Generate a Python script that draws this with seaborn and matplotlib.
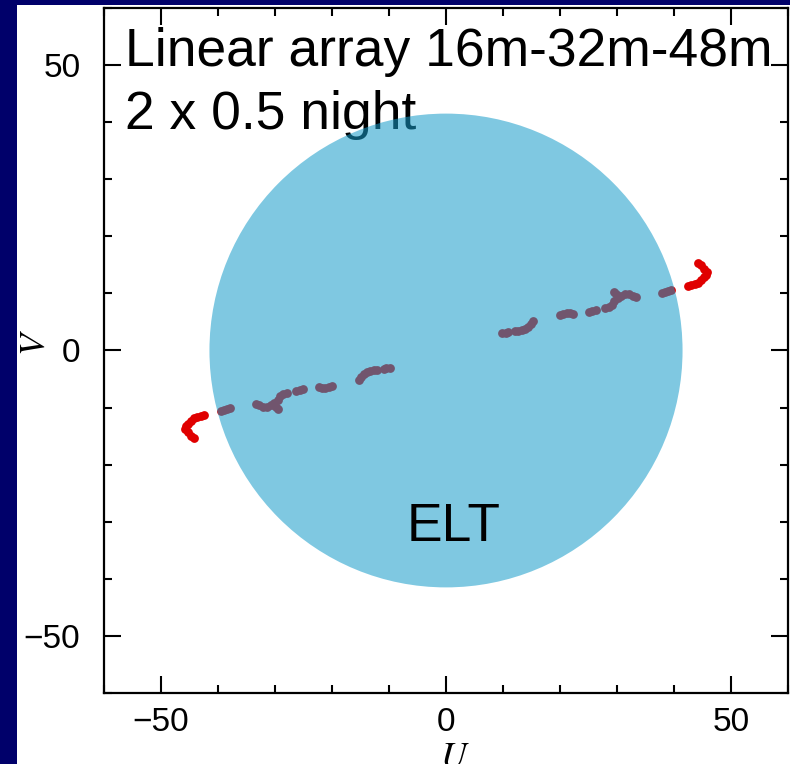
import matplotlib
matplotlib.use("Agg")
import matplotlib.pyplot as plt
from matplotlib.patches import Circle, Rectangle
from matplotlib.ticker import MultipleLocator
import seaborn as sns
import pandas as pd

# ---- data (uv-coverage tracks, metres) ----
u_pts = [
    -44.26, -44.82, -45.35, -45.79, -45.61, -45.26, -44.74, -44.21, -43.68, -43.07, -42.46,
    -39.47, -38.95, -38.42, -37.89,
    -33.33, -32.72, -32.02, -31.32, -30.70, -30.09, -29.56, -29.04, -28.51, -27.98,
    -30.09, -29.82, -29.47,
    -26.32, -25.70, -25.09,
    -22.23, -21.75, -21.23, -20.61, -20.00,
    -15.18, -14.91, -14.47, -13.86, -13.25, -12.63, -12.11,
    -10.96, -10.44, -9.91,
    44.26, 44.82, 45.35, 45.79, 45.61, 45.26, 44.74, 44.21, 43.68, 43.07, 42.46,
    39.47, 38.95, 38.42, 37.89,
    33.33, 32.72, 32.02, 31.32, 30.70, 30.09, 29.56, 29.04, 28.51, 27.98,
    30.09, 29.82, 29.47,
    26.32, 25.70, 25.09,
    22.23, 21.75, 21.23, 20.61, 20.00,
    15.18, 14.91, 14.47, 13.86, 13.25, 12.63, 12.11,
    10.96, 10.44, 9.91,
]
v_pts = [
    -15.32, -14.91, -14.30, -13.68, -13.16, -12.81, -12.28, -11.84, -11.67, -11.46, -11.23,
    -10.53, -10.35, -10.18, -10.00,
    -9.35, -9.60, -9.82, -9.82, -9.56, -9.12, -8.60, -7.98, -7.54, -7.37,
    -9.56, -9.91, -10.26,
    -7.02, -6.84, -6.72,
    -6.32, -6.54, -6.54, -6.44, -6.14,
    -5.09, -4.56, -4.04, -3.68, -3.51, -3.39, -3.33,
    -3.16, -3.07, -3.04,
    15.32, 14.91, 14.30, 13.68, 13.16, 12.81, 12.28, 11.84, 11.67, 11.46, 11.23,
    10.53, 10.35, 10.18, 10.00,
    9.35, 9.60, 9.82, 9.82, 9.56, 9.12, 8.60, 7.98, 7.54, 7.37,
    9.56, 9.91, 10.26,
    7.02, 6.84, 6.72,
    6.32, 6.54, 6.54, 6.44, 6.14,
    5.09, 4.56, 4.04, 3.68, 3.51, 3.39, 3.33,
    3.16, 3.07, 3.04,
]
elt_radius = 41.5
x_ticks = [-50, 0, 50]
y_ticks = [-50, 0, 50]
title_lines = ["Linear array 16m-32m-48m", "2 x 0.5 night"]
elt_label = "ELT"

df = pd.DataFrame({"U": u_pts, "V": v_pts})

sns.set_theme(style="ticks")
plt.rcParams["font.family"] = ["Liberation Sans", "DejaVu Sans"]
plt.rcParams["mathtext.fontset"] = "stix"

W, H = 790, 764
fig = plt.figure(figsize=(W / 100, H / 100), dpi=100, facecolor="#00006a")
# white slide panel
panel = Rectangle((17 / W, 0), 1 - 17 / W, (H - 5) / H,
                  transform=fig.transFigure, facecolor="white",
                  edgecolor="none", zorder=-10)
fig.patches.append(panel)

ax = fig.add_axes([104 / W, (H - 693) / H, 684 / W, 685 / H])
ax.set_zorder(1)
ax.set_facecolor("none")

sns.scatterplot(data=df, x="U", y="V", ax=ax, color="#e00000", s=40,
                linewidth=0, zorder=2, legend=False)

ax.add_patch(Circle((0, 0), elt_radius, facecolor="#169cca", alpha=0.55,
                    edgecolor="none", zorder=3))

ax.text(-56.3, 49.9, title_lines[0], fontsize=38.4, color="black",
        ha="left", va="baseline", zorder=1)
ax.text(-56.3, 38.8, title_lines[1], fontsize=38.4, color="black",
        ha="left", va="baseline", zorder=1)
ax.text(1.4, -33.45, elt_label, fontsize=38.4, color="black",
        ha="center", va="baseline", zorder=4)

ax.set_xlim(-60, 60)
ax.set_ylim(-60, 60)
ax.set_xticks(x_ticks)
ax.set_yticks(y_ticks)
ax.xaxis.set_minor_locator(MultipleLocator(10))
ax.yaxis.set_minor_locator(MultipleLocator(10))
ax.tick_params(which="both", direction="in", top=True, right=True,
               color="black", width=1.5, labelcolor="black")
ax.tick_params(which="major", length=12, labelsize=24, pad=10)
ax.tick_params(axis="y", which="major", pad=17)
ax.tick_params(which="minor", length=6)
for sp in ax.spines.values():
    sp.set_linewidth(1.6)
    sp.set_color("black")

ax.set_xlabel("$U$", fontsize=26, color="black")
ax.set_ylabel("$V$", fontsize=26, color="black")
ax.xaxis.set_label_coords(0.513, -0.068)
ax.yaxis.set_label_coords(-0.075, 0.512)

fig.savefig("out.png", dpi=100, facecolor=fig.get_facecolor())
